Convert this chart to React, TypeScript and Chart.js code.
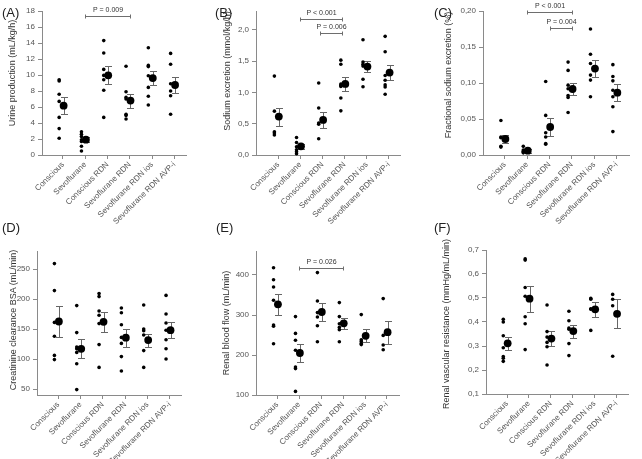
import React, { useEffect, useRef } from 'react';
import { Chart, registerables } from 'chart.js';
Chart.register(...registerables);

const FONT = "'Liberation Sans', Arial, Helvetica, sans-serif";

const groups = [
  'Conscious',
  'Sevoflurane',
  'Conscious RDN',
  'Sevoflurane RDN',
  'Sevoflurane RDN ios',
  'Sevoflurane RDN AVP-i',
];

// (A) Urine production (mL/kg/h)
const urineValues = [
  [9.4, 9.25, 7.6, 6.7, 4.7, 3.3, 2.1],
  [2.9, 2.6, 2.3, 1.9, 1.7, 1.1, 0.5],
  [14.3, 12.75, 10.7, 9.95, 9.4, 8.1, 4.7],
  [11.1, 7.9, 7.2, 7.0, 5.1, 4.95, 4.5],
  [13.4, 11.2, 11.05, 9.9, 8.45, 7.35, 6.25],
  [12.7, 11.35, 8.9, 8.0, 7.4, 5.1],
];
const urineMean = [6.17, 1.92, 9.96, 6.8, 9.62, 8.75];
const urineSem = [1.08, 0.3, 1.14, 0.88, 0.92, 0.98];
const urineTicks = [0, 2, 4, 6, 8, 10, 12, 14, 16, 18];

// (B) Sodium excretion (mmol/kg/h)
const sodiumValues = [
  [1.26, 0.7, 0.37, 0.35, 0.32],
  [0.28, 0.2, 0.13, 0.085, 0.05, 0.02],
  [1.15, 0.75, 0.51, 0.49, 0.26],
  [1.515, 1.45, 1.135, 1.115, 1.095, 0.91, 0.705],
  [1.84, 1.485, 1.45, 1.42, 1.21, 1.09],
  [1.895, 1.65, 1.27, 1.195, 1.12, 1.085, 0.97],
];
const sodiumMean = [0.613, 0.139, 0.56, 1.135, 1.413, 1.317];
const sodiumSem = [0.145, 0.04, 0.123, 0.108, 0.09, 0.123];
const sodiumTicks = [0, 0.5, 1.0, 1.5, 2.0];

// (C) Fractional sodium excretion (%)
const fractionValues = [
  [0.048, 0.025, 0.024, 0.012, 0.011],
  [0.012, 0.007, 0.005, 0.004, 0.003],
  [0.102, 0.055, 0.031, 0.025, 0.016, 0.015],
  [0.129, 0.1175, 0.097, 0.092, 0.0825, 0.08, 0.059],
  [0.175, 0.14, 0.127, 0.111, 0.104, 0.081],
  [0.1255, 0.109, 0.103, 0.09, 0.081, 0.067, 0.0325],
];
const fractionMean = [0.0222, 0.006, 0.0389, 0.0917, 0.12, 0.0866];
const fractionSem = [0.0058, 0.003, 0.0119, 0.0086, 0.012, 0.012];
const fractionTicks = [0, 0.05, 0.1, 0.15, 0.2];

// (D) Creatinine clearance BSA (mL/min)
const creatValues = [
  [259, 214, 161, 138, 106, 99],
  [189, 144, 120, 117, 111, 92, 49],
  [209, 204, 180, 173, 159, 124, 86],
  [185, 177, 157, 136, 126, 104, 80],
  [190, 150, 147, 140, 114, 86],
  [206, 175, 160, 148, 132, 117, 100],
];
const creatMean = [162.5, 117, 162, 135.5, 131.5, 148];
const creatSem = [25.5, 16, 16.3, 15, 11, 13.3];
const creatTicks = [50, 100, 150, 200, 250];

// (E) Renal blood flow (mL/min)
const flowValues = [
  [418, 388, 370, 337, 275, 272, 228],
  [296, 254, 237, 212, 170, 166, 109],
  [406, 335, 306, 295, 273, 233],
  [331, 296, 278, 269, 263, 233],
  [301, 238, 234, 229, 226],
  [341, 249, 225, 213],
];
const flowMean = [326.7, 205, 307.5, 279.2, 248, 257];
const flowSem = [26.2, 23.3, 23.7, 13.7, 16.7, 29];
const flowTicks = [100, 200, 300, 400];

// (F) Renal vascular resistance (mmHg/mL/min)
const resistValues = [
  [0.411, 0.4, 0.343, 0.293, 0.256, 0.249, 0.236],
  [0.663, 0.658, 0.544, 0.507, 0.422, 0.393, 0.285],
  [0.471, 0.36, 0.337, 0.315, 0.297, 0.221],
  [0.445, 0.405, 0.375, 0.37, 0.31, 0.26],
  [0.499, 0.495, 0.455, 0.453, 0.365],
  [0.515, 0.495, 0.468, 0.257],
];
const resistMean = [0.311, 0.497, 0.331, 0.362, 0.453, 0.434];
const resistSem = [0.027, 0.054, 0.033, 0.027, 0.031, 0.06];
const resistTicks = [0.1, 0.2, 0.3, 0.4, 0.5, 0.6, 0.7];

type Bracket = { from: number; to: number; y: number; label: string };

const urineBrackets: Bracket[] = [{ from: 1, to: 3, y: 17.4, label: 'P = 0.009' }];
const sodiumBrackets: Bracket[] = [
  { from: 1, to: 2.9, y: 2.176, label: 'P < 0.001' },
  { from: 1.88, to: 2.9, y: 1.947, label: 'P = 0.006' },
];
const fractionBrackets: Bracket[] = [
  { from: 1, to: 3, y: 0.198, label: 'P < 0.001' },
  { from: 2, to: 3, y: 0.176, label: 'P = 0.004' },
];
const flowBrackets: Bracket[] = [{ from: 1, to: 3, y: 416.7, label: 'P = 0.026' }];

type Box = { l: number; t: number; w: number; h: number };
type Area = { l: number; t: number; r: number; b: number };

interface PanelSpec {
  letter: string;
  title: string;
  values: number[][];
  means: number[];
  sems: number[];
  ticks: number[];
  yMin: number;
  yMax: number;
  decimals: number;
  brackets: Bracket[];
  box: Box;
  area: Area;
  xMin: number;
  xMax: number;
  titlePos: [number, number];
  letterPos: [number, number];
}

const panels: PanelSpec[] = [
  {
    letter: '(A)', title: 'Urine production (mL/kg/h)',
    values: urineValues, means: urineMean, sems: urineSem, ticks: urineTicks,
    yMin: 0, yMax: 18, decimals: 0, brackets: urineBrackets,
    box: { l: 0, t: 0, w: 214, h: 228 }, area: { l: 42, t: 11, r: 186, b: 155 },
    xMin: -0.94, xMax: 5.52, titlePos: [12, 72.5], letterPos: [2, 6],
  },
  {
    letter: '(B)', title: 'Sodium excretion (mmol/kg/h)',
    values: sodiumValues, means: sodiumMean, sems: sodiumSem, ticks: sodiumTicks,
    yMin: 0, yMax: 2.3, decimals: 1, brackets: sodiumBrackets,
    box: { l: 214, t: 0, w: 214, h: 228 }, area: { l: 256, t: 11, r: 400, b: 155 },
    xMin: -1.0, xMax: 5.5, titlePos: [226.5, 70.5], letterPos: [215, 6],
  },
  {
    letter: '(C)', title: 'Fractional sodium excretion (%)',
    values: fractionValues, means: fractionMean, sems: fractionSem, ticks: fractionTicks,
    yMin: 0, yMax: 0.2, decimals: 2, brackets: fractionBrackets,
    box: { l: 428, t: 0, w: 214, h: 228 }, area: { l: 483, t: 11, r: 629, b: 155 },
    xMin: -0.97, xMax: 5.55, titlePos: [447.5, 75], letterPos: [434, 6],
  },
  {
    letter: '(D)', title: 'Creatinine clearance BSA (mL/min)',
    values: creatValues, means: creatMean, sems: creatSem, ticks: creatTicks,
    yMin: 40, yMax: 280, decimals: 0, brackets: [],
    box: { l: 0, t: 228, w: 214, h: 231 }, area: { l: 37, t: 251, r: 181, b: 395 },
    xMin: -0.95, xMax: 5.5, titlePos: [12.5, 320], letterPos: [2, 221],
  },
  {
    letter: '(E)', title: 'Renal blood flow (mL/min)',
    values: flowValues, means: flowMean, sems: flowSem, ticks: flowTicks,
    yMin: 100, yMax: 460, decimals: 0, brackets: flowBrackets,
    box: { l: 214, t: 228, w: 214, h: 231 }, area: { l: 256, t: 251, r: 399, b: 395 },
    xMin: -0.97, xMax: 5.55, titlePos: [225.5, 323], letterPos: [216, 221],
  },
  {
    letter: '(F)', title: 'Renal vascular resistance (mmHg/mL/min)',
    values: resistValues, means: resistMean, sems: resistSem, ticks: resistTicks,
    yMin: 0.1, yMax: 0.7, decimals: 1, brackets: [],
    box: { l: 428, t: 228, w: 214, h: 231 }, area: { l: 486, t: 250, r: 628, b: 394 },
    xMin: -0.96, xMax: 5.53, titlePos: [445.5, 324], letterPos: [434, 221],
  },
];

const DOT_SHIFT = -0.17;
const MEAN_SHIFT = 0.03;
const AXIS_COLOR = '#8a8a8a';
const TICK_COLOR = '#555';

function PanelChart({ p }: { p: PanelSpec }) {
  const ref = useRef<HTMLCanvasElement>(null);
  useEffect(() => {
    const canvas = ref.current;
    if (!canvas) return;
    const { box, area } = p;
    const indiv = p.values.flatMap((vals, i) => vals.map((v) => ({ x: i + DOT_SHIFT, y: v })));
    const meanPts = p.means.map((m, i) => ({ x: i + MEAN_SHIFT, y: m }));

    const overlay = {
      id: 'overlay',
      beforeDatasetsDraw(chart: any) {
        const ctx = chart.ctx;
        const xs = chart.scales.x;
        const ys = chart.scales.y;
        ctx.save();
        ctx.strokeStyle = '#666';
        ctx.lineWidth = 1;
        p.means.forEach((m, i) => {
          const x = Math.round(xs.getPixelForValue(i + MEAN_SHIFT)) + 0.5;
          const y1 = Math.round(ys.getPixelForValue(m + p.sems[i])) + 0.5;
          const y2 = Math.round(ys.getPixelForValue(m - p.sems[i])) + 0.5;
          ctx.beginPath();
          ctx.moveTo(x, y1);
          ctx.lineTo(x, y2);
          ctx.moveTo(x - 3.5, y1);
          ctx.lineTo(x + 3.5, y1);
          ctx.moveTo(x - 3.5, y2);
          ctx.lineTo(x + 3.5, y2);
          ctx.stroke();
        });
        ctx.restore();
      },
      afterDatasetsDraw(chart: any) {
        const ctx = chart.ctx;
        const xs = chart.scales.x;
        const ys = chart.scales.y;
        ctx.save();
        ctx.strokeStyle = '#6e6e6e';
        ctx.lineWidth = 1;
        ctx.fillStyle = '#333';
        ctx.font = `7px ${FONT}`;
        ctx.textAlign = 'center';
        ctx.textBaseline = 'middle';
        p.brackets.forEach((b) => {
          const x1 = Math.round(xs.getPixelForValue(b.from)) + 0.5;
          const x2 = Math.round(xs.getPixelForValue(b.to)) + 0.5;
          const y = Math.round(ys.getPixelForValue(b.y)) + 0.5;
          ctx.beginPath();
          ctx.moveTo(x1, y);
          ctx.lineTo(x2, y);
          ctx.moveTo(x1, y - 2);
          ctx.lineTo(x1, y + 2);
          ctx.moveTo(x2, y - 2);
          ctx.lineTo(x2, y + 2);
          ctx.stroke();
          ctx.fillText(b.label, (x1 + x2) / 2, y - 6);
        });
        ctx.restore();
      },
    };

    const fmt = (v: number) =>
      p.decimals === 0 ? String(Math.round(v)) : v.toFixed(p.decimals).replace('.', ',');

    const chart = new Chart(canvas, {
      type: 'scatter',
      data: {
        datasets: [
          {
            data: indiv,
            pointRadius: 1.8,
            pointHoverRadius: 1.8,
            backgroundColor: '#000',
            borderWidth: 0,
            clip: false as any,
          },
          {
            data: meanPts,
            pointRadius: 3.9,
            pointHoverRadius: 3.9,
            backgroundColor: '#000',
            borderWidth: 0,
            clip: false as any,
          },
        ],
      },
      options: {
        animation: false,
        responsive: false,
        events: [],
        layout: {
          padding: { left: 0, top: area.t - box.t, right: box.l + box.w - area.r, bottom: 0 },
        },
        plugins: { legend: { display: false }, tooltip: { enabled: false } },
        scales: {
          x: {
            type: 'linear',
            min: p.xMin,
            max: p.xMax,
            afterBuildTicks: (s: any) => {
              s.ticks = groups.map((_, i) => ({ value: i }));
            },
            afterFit: (s: any) => {
              s.height = box.t + box.h - area.b;
            },
            ticks: {
              callback: (v: any) => groups[v as number] ?? '',
              minRotation: 45,
              maxRotation: 45,
              autoSkip: false,
              color: TICK_COLOR,
              font: { size: 8, family: FONT },
              padding: 1,
            },
            grid: { display: true, drawOnChartArea: false, drawTicks: true, tickLength: 4, color: AXIS_COLOR },
            border: { display: true, color: AXIS_COLOR },
          },
          y: {
            type: 'linear',
            min: p.yMin,
            max: p.yMax,
            afterBuildTicks: (s: any) => {
              s.ticks = p.ticks.map((v) => ({ value: v }));
            },
            afterFit: (s: any) => {
              s.width = area.l - box.l;
            },
            ticks: {
              callback: (v: any) => fmt(v as number),
              color: TICK_COLOR,
              font: { size: 8, family: FONT },
              padding: 3,
            },
            grid: { display: true, drawOnChartArea: false, drawTicks: true, tickLength: 4, color: AXIS_COLOR },
            border: { display: true, color: AXIS_COLOR },
          },
        },
      } as any,
      plugins: [overlay],
    });
    return () => chart.destroy();
  }, [p]);
  return (
    <canvas
      ref={ref}
      width={p.box.w}
      height={p.box.h}
      style={{ position: 'absolute', left: p.box.l, top: p.box.t, width: p.box.w, height: p.box.h }}
    />
  );
}

export default function App() {
  return (
    <div
      style={{
        position: 'absolute',
        left: 0,
        top: 0,
        width: 642,
        height: 459,
        background: '#fff',
        overflow: 'hidden',
        fontFamily: FONT,
      }}
    >
      {panels.map((p) => (
        <PanelChart key={p.letter} p={p} />
      ))}
      {panels.map((p) => (
        <div
          key={p.letter + '-t'}
          style={{
            position: 'absolute',
            left: p.titlePos[0],
            top: p.titlePos[1],
            transform: 'translate(-50%, -50%) rotate(-90deg)',
            whiteSpace: 'nowrap',
            fontSize: 9,
            lineHeight: '10px',
            color: '#333',
          }}
        >
          {p.title}
        </div>
      ))}
      {panels.map((p) => (
        <div
          key={p.letter + '-l'}
          style={{
            position: 'absolute',
            left: p.letterPos[0],
            top: p.letterPos[1],
            fontSize: 13,
            lineHeight: '13px',
            color: '#222',
            whiteSpace: 'nowrap',
          }}
        >
          {p.letter}
        </div>
      ))}
    </div>
  );
}
